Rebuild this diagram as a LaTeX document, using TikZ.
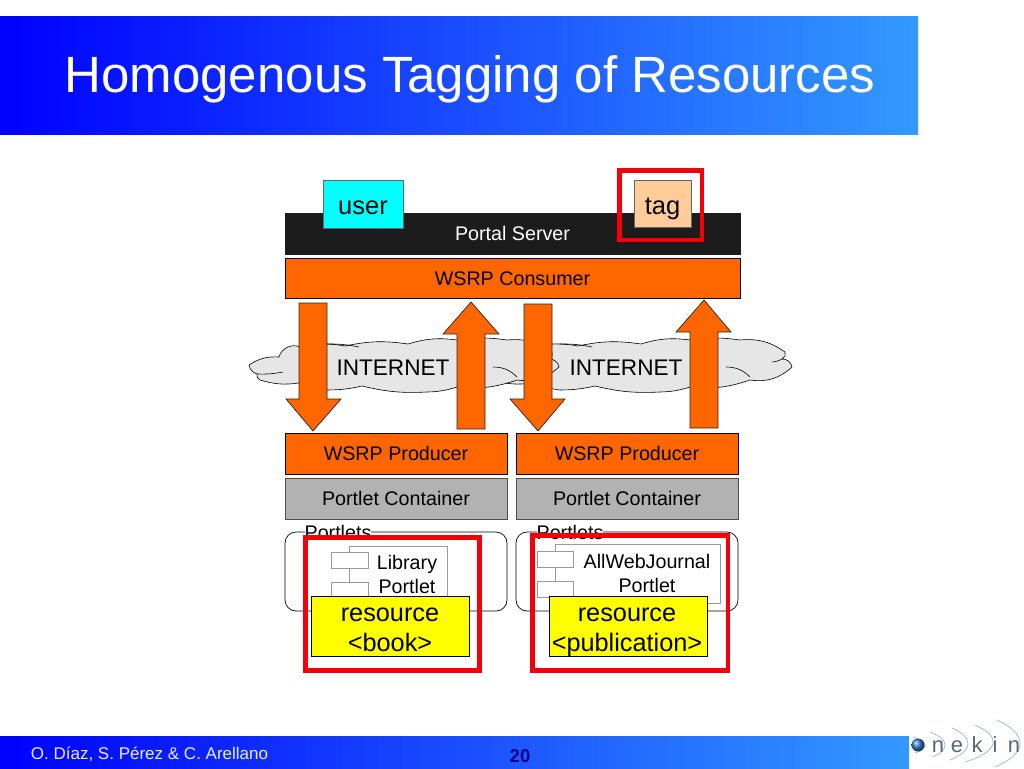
\documentclass[tikz,border=0pt]{standalone}
\usepackage{fontspec}
\setmainfont{Liberation Sans}
\definecolor{orng}{RGB}{255,102,0}
\definecolor{blackbar}{RGB}{28,28,28}
\definecolor{cloudgray}{RGB}{230,230,230}
\definecolor{contgray}{RGB}{178,178,178}
\definecolor{peach}{RGB}{255,204,153}
\definecolor{cyanbox}{RGB}{0,255,255}
\definecolor{redbox}{RGB}{245,0,10}
\definecolor{hblue}{RGB}{51,153,255}
\definecolor{pureblue}{RGB}{0,0,255}
\definecolor{pureyellow}{RGB}{255,255,0}
\definecolor{logotext}{RGB}{85,105,125}
\definecolor{logoline}{RGB}{165,190,195}
\newcommand{\fs}[1]{\fontsize{#1}{#1}\selectfont}
\newcommand{\rbox}[7]{\node[#6,minimum width={(#4-#2)*1pt},minimum height={(#5-#3)*1pt}] (#1) at ({(#2+#4)/2},{(#3+#5)/2}) {#7};}
\tikzset{
  x=1pt,y=-1pt,
  every node/.style={inner sep=0pt,outer sep=0pt,align=center},
  fsz/.style={font=\fs{#1},text height=#1*.72pt,text depth=0pt},
  layer/.style={draw=black,line width=.7pt,fsz=19.7},
  orangebar/.style={layer,fill=orng},
  contbar/.style={layer,fill=contgray,draw=black!70},
  blackband/.style={draw=blackbar,fill=blackbar,text=white,fsz=19.7},
  actor/.style={draw=black!60,line width=.6pt,fsz=25.5,text height=21pt},
  resbox/.style={draw=black,line width=.7pt,fill=pureyellow},
  frame/.style={draw=redbox,line width=4.6pt},
  portletarea/.style={draw=black,line width=.7pt,rounded corners=11pt},
  compo/.style={draw=black!40,line width=.6pt},
  compotab/.style={draw=black!40,line width=.6pt,fill=white},
  biglabel/.style={fsz=25.3},
  midlabel/.style={fsz=19.7},
  logoletter/.style={text=logotext,fsz=22},
  bigarrow/.style={draw=black!85,line width=.7pt,fill=orng,line join=miter},
  cloudshape/.style={draw=black,line width=.6pt,fill=cloudgray,line join=round},
  logoarc/.style={draw=logoline,line width=.8pt},
}
\newcommand{\cloudpath}[1]{%
 \begin{scope}[xshift=#1pt]
 \path[cloudshape] (249,365) to[bend left=18] (279,357) to[bend left=50] (300,347) to[bend left=8] (327,344)
   to[bend left=4] (345,346) to[bend left=10] (408,344) to[bend left=12] (457,340)
   to[bend left=8] (507,340) to[bend left=20] (552,352) to[bend left=50] (549,359) to[bend left=40] (559,367)
   to[bend left=25] (517,380) to[bend left=12] (457,387) to[bend left=8] (427,392) to[bend left=8] (362,386)
   to[bend left=6] (327,390) to[bend left=6] (299,383) to[bend left=12] (260,380) to[bend left=40] (257,374) to[bend left=30] cycle;
 \draw[black,line width=.6pt] (283,372) to[bend left=6] (257,374);
 \draw[black,line width=.6pt] (493,367) to[bend left=22] (517,377);
 \draw[black,line width=.6pt] (539,362) to[bend right=12] (549,359);
 \draw[black,line width=.6pt] (327,344) to[bend left=6] (359,347);
 \end{scope}}
\begin{document}
\begin{tikzpicture}
\useasboundingbox (0,0) rectangle (1024,768);
\fill[white] (0,0) rectangle (1024,768);
% header and footer
\shade[left color=pureblue,right color=hblue] (0,16.5) rectangle (918,134.5);
\node[text=white,fsz=51] (title) at (470,74) {Homogenous Tagging of Resources};
\shade[left color=pureblue,right color=hblue] (0,736.5) rectangle (909,768);
\node[text=white!92!blue,fsz=17] (authors) at (149.5,753) {O. Díaz, S. Pérez \& C. Arellano};
\node[text=blue!55!black,font=\bfseries\fs{18.5}] (pageno) at (520,756) {20};
% logo
\foreach \xa/\ya/\xm/\xb/\yb in {913/737/925/915/753,930/732/945/933/757,952/728/968/950/760,975/725/993/965/762,997/720/1020/995/767}{
  \draw[logoarc] (\xa,\ya) .. controls ({(8*\xm-\xa-\xb)/6},{\ya+.3*(\yb-\ya)}) and ({(8*\xm-\xa-\xb)/6},{\ya+.7*(\yb-\ya)}) .. (\xb,\yb);
}
\shade[ball color=blue!50!cyan!60!gray] (918,745) circle (6.5);
\node[logoletter] (l1) at (938,745) {n};
\node[logoletter] (l2) at (957,745) {e};
\node[logoletter] (l3) at (977,745) {k};
\node[logoletter] (l4) at (995,745) {i};
\node[logoletter] (l5) at (1014,745) {n};
% top layers
\rbox{portal}{285}{213}{740}{254}{blackband}{Portal Server}
\rbox{consumer}{285}{258}{740}{298}{orangebar}{WSRP Consumer}
\rbox{user}{323}{180}{403}{228}{actor,fill=cyanbox}{user}
\rbox{tag}{634}{180}{691}{227}{actor,fill=peach}{tag}
% clouds
\cloudpath{233}
\cloudpath{0}
\node[fsz=22.6] (inet1) at (393,367) {INTERNET};
\node[fsz=22.6] (inet2) at (626,367) {INTERNET};
% arrows
\path[bigarrow] (299,303)--(327,303)--(327,399)--(341,399)--(313,431)--(286,399)--(299,399)--cycle;
\path[bigarrow] (457,429)--(485,429)--(485,334)--(499,334)--(471,302)--(443,334)--(457,334)--cycle;
\path[bigarrow] (524,304)--(552,304)--(552,399)--(565,399)--(538,431)--(510,399)--(524,399)--cycle;
\path[bigarrow] (690,428)--(718,428)--(718,332)--(731,332)--(704,300)--(676,332)--(690,332)--cycle;
% left stack
\rbox{prodA}{285}{433}{507}{474}{orangebar}{WSRP Producer}
\rbox{contA}{285}{478}{507}{519}{contbar}{Portlet Container}
\rbox{areaA}{285}{532}{507}{611}{portletarea}{}
\node[fill=white,fsz=19.7] (plabA) at (338,532) {Portlets};
\rbox{compA}{349}{546}{447}{604}{compo}{}
\rbox{tabA1}{331}{552}{368}{568}{compotab}{}
\rbox{tabA2}{331}{582}{368}{598}{compotab}{}
\node[midlabel] (libA) at (407,562) {Library};
\node[midlabel] (libB) at (407,586) {Portlet};
% right stack
\rbox{prodB}{516}{433}{738}{474}{orangebar}{WSRP Producer}
\rbox{contB}{516}{478}{738}{519}{contbar}{Portlet Container}
\rbox{areaB}{516}{532}{738}{611}{portletarea}{}
\node[fill=white,fsz=19.7] (plabB) at (570,532) {Portlets};
\rbox{compB}{555}{544}{720}{603}{compo}{}
\rbox{tabB1}{537}{551}{573}{567}{compotab}{}
\rbox{tabB2}{537}{581}{573}{597}{compotab}{}
\node[midlabel] (awjA) at (647,561) {AllWebJournal};
\node[midlabel] (awjB) at (647,585) {Portlet};
% resources
\rbox{resA}{311}{596}{469}{656}{resbox}{}
\node[biglabel] (resA1) at (390,612) {resource};
\node[biglabel] (resA2) at (390,642) {<book>};
\rbox{resB}{549}{596}{707}{656}{resbox}{}
\node[biglabel] (resB1) at (627,612) {resource};
\node[biglabel] (resB2) at (627,642) {<publication>};
% red frames
\rbox{frTag}{619.5}{170.5}{702}{240}{frame}{}
\rbox{frA}{305.5}{537.5}{479.5}{670.5}{frame}{}
\rbox{frB}{532.5}{535.5}{728}{670.5}{frame}{}
\end{tikzpicture}
\end{document}
